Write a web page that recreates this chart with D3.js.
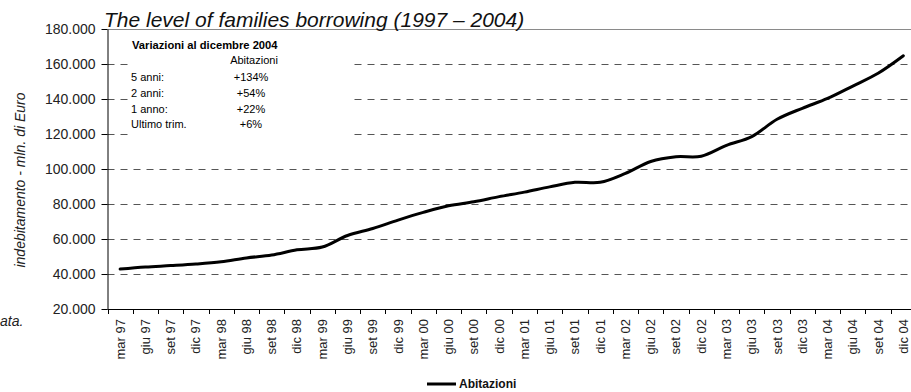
<!DOCTYPE html>
<html>
<head>
<meta charset="utf-8">
<script src="https://cdn.jsdelivr.net/npm/d3@7"></script>
<style>
  html, body { margin: 0; padding: 0; background: #fff; }
  svg { display: block; font-family: "Liberation Sans", Arial, sans-serif; }
</style>
</head>
<body>
<svg id="chart" width="911" height="392"></svg>
<script>
const categories = ["mar 97","giu 97","set 97","dic 97","mar 98","giu 98","set 98","dic 98",
  "mar 99","giu 99","set 99","dic 99","mar 00","giu 00","set 00","dic 00",
  "mar 01","giu 01","set 01","dic 01","mar 02","giu 02","set 02","dic 02",
  "mar 03","giu 03","set 03","dic 03","mar 04","giu 04","set 04","dic 04"];
const abitazioni = [42800,44000,44800,45700,47000,49200,50800,53800,
  55400,62000,66000,70800,75200,79000,81300,84200,
  86800,89800,92400,92400,97500,104300,107000,107300,
  113500,118500,128400,134700,140300,147400,154700,164700];
const yTicks = [20000,40000,60000,80000,100000,120000,140000,160000,180000];
const boxRows = [["5 anni:","+134%"],["2 anni:","+54%"],["1 anno:","+22%"],["Ultimo trim.","+6%"]];
const title = "The level of families borrowing (1997 \u2013 2004)";
const yLabel = "indebitamento - mln. di Euro";
const seriesName = "Abitazioni";

const svg = d3.select("#chart");
const L = 107.5, R = 916, T = 29, B = 309;

const x = d3.scaleBand().domain(categories).range([L, R]).padding(0);
const y = d3.scaleLinear().domain([20000, 180000]).range([B, T]);
const loc = d3.formatLocale({decimal: ",", thousands: ".", grouping: [3], currency: ["", ""]});
const fmt = loc.format(",.0f");

// gridlines
svg.append("g").selectAll("line")
  .data(yTicks.filter(d => d > 20000 && d < 180000))
  .join("line")
  .attr("x1", L).attr("x2", 911)
  .attr("y1", d => Math.round(y(d)) + 0.5).attr("y2", d => Math.round(y(d)) + 0.5)
  .attr("stroke", "#555").attr("stroke-width", 1)
  .attr("stroke-dasharray", "7,6");

// top border
svg.append("line").attr("x1", L).attr("x2", 911).attr("y1", T + 0.5).attr("y2", T + 0.5)
  .attr("stroke", "#8a8a8a").attr("stroke-width", 1.2);

// text box (white background)
const box = svg.append("g");
box.append("rect").attr("x", 128).attr("y", 36).attr("width", 224).attr("height", 104).attr("fill", "#fff");
box.append("text").attr("x", 132).attr("y", 49).attr("font-size", 11.2).attr("font-weight", "bold")
  .text("Variazioni al dicembre 2004");
box.append("text").attr("x", 254).attr("y", 64).attr("font-size", 11).attr("text-anchor", "middle")
  .text(seriesName);
box.selectAll("text.lab").data(boxRows).join("text").attr("class", "lab")
  .attr("x", 131).attr("y", (d, i) => 81 + i * 15.8).attr("font-size", 11).text(d => d[0]);
box.selectAll("text.val").data(boxRows).join("text").attr("class", "val")
  .attr("x", 251).attr("y", (d, i) => 81 + i * 15.8).attr("font-size", 11).attr("text-anchor", "middle")
  .text(d => d[1]);

// y axis
const yAxis = d3.axisLeft(y).tickValues(yTicks).tickFormat(fmt).tickSize(6).tickSizeOuter(0);
const gy = svg.append("g").attr("transform", `translate(${L},0)`).call(yAxis);
gy.select(".domain").attr("stroke", "#000");
gy.selectAll(".tick line").attr("stroke", "#000");
gy.selectAll(".tick text").attr("font-size", 14).attr("fill", "#222").attr("x", -12)
  .attr("font-family", "Liberation Sans, Arial, sans-serif");

// x axis
svg.append("line").attr("x1", L).attr("x2", 911).attr("y1", B + 0.5).attr("y2", B + 0.5)
  .attr("stroke", "#000").attr("stroke-width", 1.2);
svg.append("g").selectAll("line").data(categories.concat(["__end"]))
  .join("line")
  .attr("x1", (d, i) => Math.round(i < categories.length ? x(d) : R) + 0.5)
  .attr("x2", (d, i) => Math.round(i < categories.length ? x(d) : R) + 0.5)
  .attr("y1", B).attr("y2", B + 5).attr("stroke", "#000");
svg.append("g").selectAll("text").data(categories).join("text")
  .attr("transform", d => `translate(${x(d) + x.bandwidth() / 2 + 4.5},${B + 10}) rotate(-90)`)
  .attr("text-anchor", "end").attr("font-size", 13).attr("fill", "#222").text(d => d);

// line
const line = d3.line()
  .x((d, i) => x(categories[i]) + x.bandwidth() / 2)
  .y(d => y(d))
  .curve(d3.curveCatmullRom.alpha(0.5));
svg.append("path").datum(abitazioni).attr("d", line)
  .attr("fill", "none").attr("stroke", "#000").attr("stroke-width", 3)
  .attr("stroke-linejoin", "round").attr("stroke-linecap", "round");

// title
svg.append("text").attr("x", 104).attr("y", 27).attr("font-size", 21).attr("font-style", "italic")
  .attr("fill", "#111").text(title);

// y label
svg.append("text").attr("transform", "translate(25,180) rotate(-90)").attr("text-anchor", "middle")
  .attr("font-size", 14).attr("font-style", "italic").attr("fill", "#222").text(yLabel);

// cut-off note
svg.append("text").attr("x", 0).attr("y", 326).attr("font-size", 14).attr("font-style", "italic")
  .attr("fill", "#222").text("ata.");

// legend
svg.append("line").attr("x1", 427).attr("x2", 456).attr("y1", 384).attr("y2", 384)
  .attr("stroke", "#000").attr("stroke-width", 3);
svg.append("text").attr("x", 459).attr("y", 388).attr("font-size", 12).attr("font-weight", "bold")
  .attr("fill", "#111").text(seriesName);
</script>
</body>
</html>
